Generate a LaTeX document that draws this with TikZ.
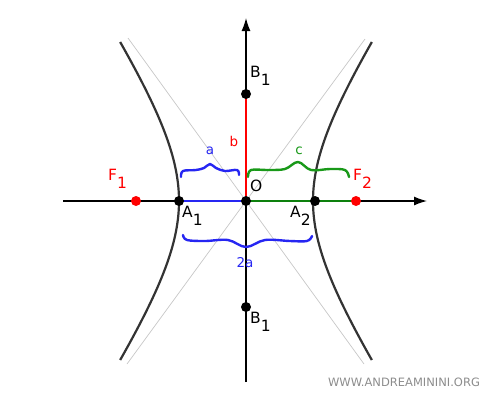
\documentclass[tikz,border=0pt]{standalone}
\usepackage{fontspec}
\setmainfont{DejaVu Sans}
\usetikzlibrary{arrows.meta}
\definecolor{curvecol}{rgb}{0.2,0.2,0.2}
\definecolor{asycol}{rgb}{0.78,0.78,0.78}
\definecolor{bluecol}{rgb}{0.15,0.15,0.95}
\definecolor{greencol}{rgb}{0.1,0.6,0.1}
\definecolor{dgreencol}{rgb}{0.05,0.5,0.05}
\definecolor{markcol}{rgb}{0.55,0.55,0.55}
\newcommand{\lowsub}[1]{\raisebox{-0.55em}{#1}}
\tikzset{
  dot/.style={circle,fill=black,inner sep=0pt,minimum size=10pt},
  reddot/.style={circle,fill=red,inner sep=0pt,minimum size=10pt},
  biglabel/.style={font=\fontsize{15.5}{17}\selectfont,inner sep=0pt},
  smalllabel/.style={font=\fontsize{13.5}{15}\selectfont,inner sep=0pt},
  brace/.style={line width=2.4pt,line cap=round,line join=round},
}
\begin{document}
\begin{tikzpicture}[x=1pt,y=-1pt,>={Latex[length=13pt,width=9pt]}]
\useasboundingbox (0,0) rectangle (500,400);
%%
  % Points
  \coordinate (O) at (246,201);
  \coordinate (A1) at (179,201);
  \coordinate (A2) at (315,201);
  \coordinate (F1) at (136,201);
  \coordinate (F2) at (356,201);
  \coordinate (B1) at (246,94);
  \coordinate (B2) at (246,307);
  \coordinate (xl) at (63,201);
  \coordinate (xr) at (427,201);
  \coordinate (yb) at (246,382);
  \coordinate (yt) at (246,18);
  % Asymptotes
  \draw [asycol,line width=0.7pt] (128,38) -- (O) -- (364,364);
  \draw [asycol,line width=0.7pt] (365,39) -- (O) -- (127,364);
  % Hyperbola
  \draw [curvecol,line width=2.2pt,smooth,samples=60,domain=-159:159]
    plot ({246-67*sqrt(1+(\x/100)*(\x/100))},{201+\x});
  \draw [curvecol,line width=2.2pt,smooth,samples=60,domain=-159:159]
    plot ({246+67*sqrt(1+(\x/100)*(\x/100))},{201+\x});
  % Axes
  \draw [->,line width=1.3pt] (xl) -- (xr);
  \draw [->,line width=1.3pt] (yb) -- (yt);
  % Segments
  \draw [bluecol,line width=2pt] (A1) -- (O);
  \draw [dgreencol,line width=2pt] (O) -- (F2);
  \draw [red,line width=2pt] (O) -- (B1);
  % Braces
  \draw [bluecol,brace] plot [smooth,tension=0.6] coordinates
    {(181,177) (183,171) (196,170) (204,168) (210,164) (216,168) (225,171) (237,170) (239,175)};
  \draw [greencol,brace] plot [smooth,tension=0.6] coordinates
    {(248,177) (251,170) (268,170) (285,169) (298,162) (311,170) (330,169) (345,170) (349,177)};
  \draw [bluecol,brace] plot [smooth,tension=0.6] coordinates
    {(183,235) (187,240) (205,241) (228,240) (246,247) (265,240) (290,241) (307,241) (312,236)};
  % Dots
  \node [dot] (o) at (O) {};
  \node [dot] (a1) at (A1) {};
  \node [dot] (a2) at (A2) {};
  \node [dot] (b1) at (B1) {};
  \node [dot] (b2) at (B2) {};
  \node [reddot] (f1) at (F1) {};
  \node [reddot] (f2) at (F2) {};
  % Labels
  \node [biglabel,anchor=west] (lo) at (250,186) {O};
  \node [biglabel,anchor=west] (la1) at (182,216) {A\lowsub{1}};
  \node [biglabel,anchor=west] (la2) at (290,216) {A\lowsub{2}};
  \node [biglabel,anchor=west] (lb1) at (250,76) {B\lowsub{1}};
  \node [biglabel,anchor=west] (lb2) at (250,322) {B\lowsub{1}};
  \node [biglabel,anchor=west,red] (lf1) at (108,179) {F\lowsub{1}};
  \node [biglabel,anchor=west,red] (lf2) at (353,179) {F\lowsub{2}};
  \node [smalllabel,bluecol] (la) at (210,151) {a};
  \node [smalllabel,red] (lb) at (234,141) {b};
  \node [smalllabel,greencol] (lc) at (299,151) {c};
  \node [smalllabel,bluecol] (l2a) at (245,263) {2a};
  \node [markcol,font=\fontsize{11.5}{13}\selectfont,inner sep=0pt] (mark) at (404,382) {WWW.ANDREAMININI.ORG};
%
\end{tikzpicture}
\end{document}
